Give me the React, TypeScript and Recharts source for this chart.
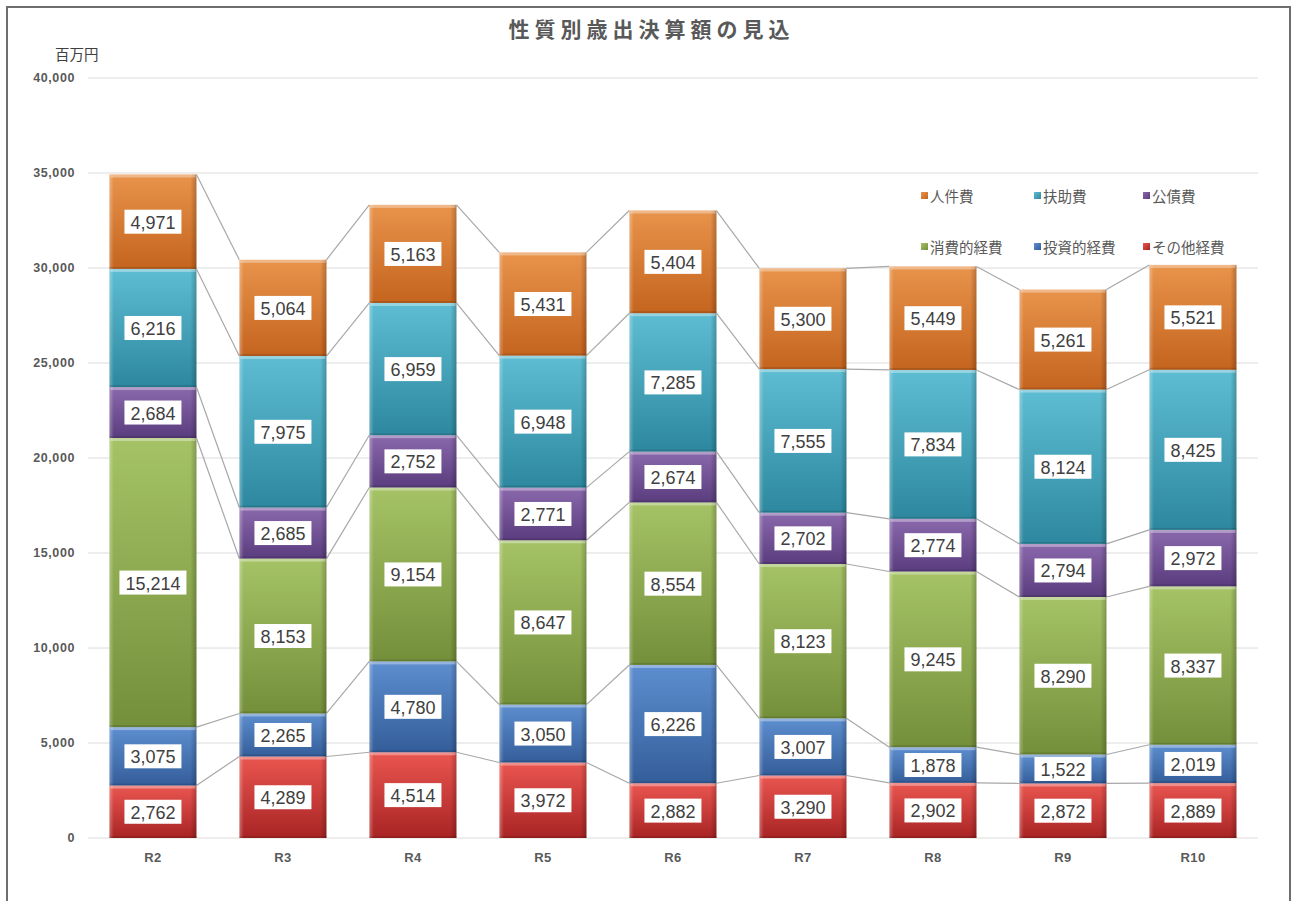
import React from 'react';
import { BarChart, Bar, XAxis, YAxis, CartesianGrid, Legend } from 'recharts';

const categories = ['R2', 'R3', 'R4', 'R5', 'R6', 'R7', 'R8', 'R9', 'R10'];
const sonota = [2762, 4289, 4514, 3972, 2882, 3290, 2902, 2872, 2889];
const toushi = [3075, 2265, 4780, 3050, 6226, 3007, 1878, 1522, 2019];
const shouhi = [15214, 8153, 9154, 8647, 8554, 8123, 9245, 8290, 8337];
const kousai = [2684, 2685, 2752, 2771, 2674, 2702, 2774, 2794, 2972];
const fujo = [6216, 7975, 6959, 6948, 7285, 7555, 7834, 8124, 8425];
const jinken = [4971, 5064, 5163, 5431, 5404, 5300, 5449, 5261, 5521];
const yTicks = [0, 5000, 10000, 15000, 20000, 25000, 30000, 35000, 40000];

// bottom to top stacking order
const series = [
  { key: 'sonota', name: 'その他経費', values: sonota, top: '#EA5650', bottom: '#A82424', sq: '#C0302C' },
  { key: 'toushi', name: '投資的経費', values: toushi, top: '#5D8ECF', bottom: '#345E9A', sq: '#3F6FB0' },
  { key: 'shouhi', name: '消費的経費', values: shouhi, top: '#A5C366', bottom: '#748F3A', sq: '#86A64A' },
  { key: 'kousai', name: '公債費', values: kousai, top: '#8A68AC', bottom: '#5A3D7E', sq: '#6E4E94' },
  { key: 'fujo', name: '扶助費', values: fujo, top: '#5EBDD3', bottom: '#2D889F', sq: '#3DA0B8' },
  { key: 'jinken', name: '人件費', values: jinken, top: '#E8934B', bottom: '#C4641F', sq: '#D97A30' },
];

const legendOrder = ['jinken', 'fujo', 'kousai', 'shouhi', 'toushi', 'sonota'];

const data = categories.map((cat, i) => {
  const row: Record<string, any> = { cat };
  series.forEach((s) => {
    row[s.key] = s.values[i];
  });
  return row;
});

const GAP = 0.165;
const fmt = (v: number) => v.toLocaleString('en-US');

const cumAt = (si: number, k: number) =>
  series.slice(0, si + 1).reduce((a, s) => a + s.values[k], 0);

const makeShape = (si: number) => (props: any) => {
  const { x, y, width, height, payload } = props;
  const s = series[si];
  const i = categories.indexOf(payload.cat);
  const v = s.values[i];
  if (!height || !v) return <g />;
  const ppu = height / v;
  let line = null;
  if (i < categories.length - 1) {
    const step = width / (1 - 2 * GAP);
    const ny = y + (cumAt(si, i) - cumAt(si, i + 1)) * ppu;
    line = (
      <line x1={x + width} y1={y} x2={x + step} y2={ny} stroke="#a8a8a8" strokeWidth={1.2} />
    );
  }
  const label = fmt(v);
  let tw = 0;
  for (const c of label) tw += c === ',' ? 5 : 10;
  const bw = tw + 12;
  const bh = 24;
  const cx = x + width / 2;
  const cy = y + height / 2;
  return (
    <g>
      <rect x={x} y={y} width={width} height={height} fill={`url(#g-${s.key})`} />
      <rect x={x} y={y} width={width} height={height} fill="url(#edge)" />
      <rect x={x + 1} y={y} width={width - 2} height={Math.min(3, height)} fill="#ffffff" opacity={0.35} />
      <rect x={x} y={y + height - 2} width={width} height={2} fill="#000000" opacity={0.12} />
      {line}
      <rect x={cx - bw / 2} y={cy - bh / 2} width={bw} height={bh} fill="#ffffff" />
      <text
        x={cx}
        y={cy + 1}
        textAnchor="middle"
        dominantBaseline="central"
        fontFamily="'Liberation Sans', Arial, sans-serif"
        fontSize={18}
        fill="#404040"
      >
        {label}
      </text>
    </g>
  );
};

const LegendBox = () => (
  <div
    style={{
      display: 'grid',
      gridTemplateColumns: '113px 109px 110px',
      gridAutoRows: '51px',
      fontFamily: "'Noto Sans CJK JP', sans-serif",
      fontSize: 14.5,
      color: '#595959',
    }}
  >
    {legendOrder.map((k) => {
      const s = series.find((ss) => ss.key === k)!;
      return (
        <div key={k} style={{ display: 'flex', alignItems: 'center', height: 20, whiteSpace: 'nowrap' }}>
          <span
            style={{
              display: 'inline-block',
              width: 7,
              height: 7,
              background: `linear-gradient(135deg, ${s.top}, ${s.bottom})`,
              marginRight: 2,
            }}
          />
          <span>{s.name}</span>
        </div>
      );
    })}
  </div>
);

const tickFont = "'Liberation Sans', Arial, sans-serif";

export default function App() {
  return (
    <div style={{ position: 'fixed', left: 0, top: 0, width: 1298, height: 901, overflow: 'hidden', background: '#fff' }}>
      <div
        style={{
          position: 'absolute',
          left: 6,
          top: 6,
          width: 1285,
          height: 940,
          border: '2px solid #6e6e6e',
          boxSizing: 'border-box',
        }}
      />
      <div
        style={{
          position: 'absolute',
          left: 0,
          width: 1298,
          top: 15,
          textAlign: 'center',
          fontFamily: "'Noto Sans CJK JP', sans-serif",
          fontWeight: 'bold',
          fontSize: 21,
          letterSpacing: 5,
          lineHeight: '26px',
          color: '#595959',
          paddingLeft: 5,
          boxSizing: 'border-box',
        }}
      >
        性質別歳出決算額の見込
      </div>
      <div
        style={{
          position: 'absolute',
          left: 55,
          top: 47,
          fontFamily: "'Noto Sans CJK JP', sans-serif",
          fontSize: 14.5,
          lineHeight: 1,
          color: '#404040',
        }}
      >
        百万円
      </div>
      <div style={{ position: 'absolute', left: 0, top: 0 }}>
        <BarChart
          width={1298}
          height={901}
          data={data}
          margin={{ top: 78, right: 40, bottom: 0, left: 0 }}
          barCategoryGap="16.5%"
        >
          <defs>
            {series.map((s) => (
              <linearGradient key={s.key} id={`g-${s.key}`} x1="0" y1="0" x2="0" y2="1">
                <stop offset="0%" stopColor={s.top} />
                <stop offset="100%" stopColor={s.bottom} />
              </linearGradient>
            ))}
            <linearGradient id="edge" x1="0" y1="0" x2="1" y2="0">
              <stop offset="0%" stopColor="#ffffff" stopOpacity={0.3} />
              <stop offset="5%" stopColor="#ffffff" stopOpacity={0} />
              <stop offset="93%" stopColor="#000000" stopOpacity={0} />
              <stop offset="100%" stopColor="#000000" stopOpacity={0.22} />
            </linearGradient>
          </defs>
          <CartesianGrid vertical={false} stroke="#dcdcdc" />
          <XAxis
            dataKey="cat"
            height={63}
            axisLine={false}
            tickLine={false}
            tickSize={0}
            tickMargin={15}
            tick={{ fontSize: 13, fontWeight: 'bold', fill: '#595959', letterSpacing: 0.4, fontFamily: tickFont }}
          />
          <YAxis
            width={88}
            domain={[0, 40000]}
            ticks={yTicks}
            axisLine={false}
            tickLine={false}
            tickSize={0}
            tickMargin={13}
            tickFormatter={(v: number) => fmt(v)}
            tick={{ fontSize: 12.5, fontWeight: 'bold', fill: '#595959', letterSpacing: 0.6, fontFamily: tickFont }}
          />
          <Legend
            layout="vertical"
            align="center"
            verticalAlign="middle"
            wrapperStyle={{ left: 921, top: 185, width: 340 }}
            content={() => <LegendBox />}
          />
          {series.map((s, si) => (
            <Bar
              key={s.key}
              dataKey={s.key}
              name={s.name}
              stackId="a"
              fill={s.sq}
              isAnimationActive={false}
              shape={makeShape(si)}
            />
          ))}
        </BarChart>
      </div>
    </div>
  );
}
